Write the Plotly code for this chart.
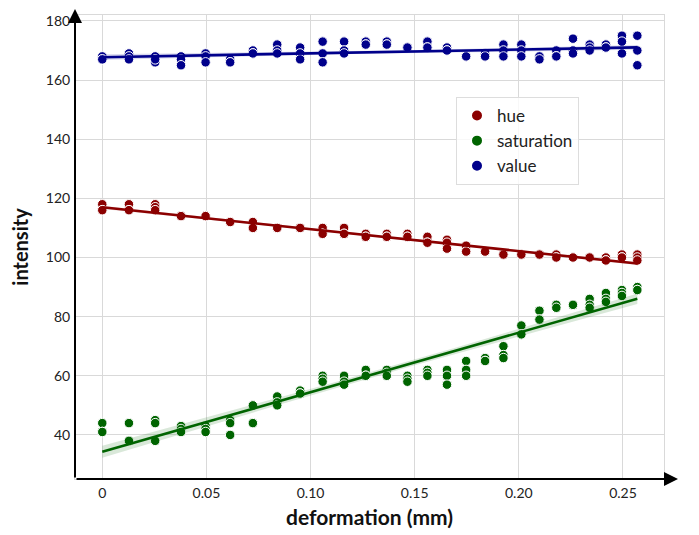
import numpy as np
import plotly.graph_objects as go

# deformation (mm) for each measurement column
deformation = [0, 0.0128, 0.0254, 0.0378, 0.0496, 0.0614, 0.0723, 0.0840, 0.0950,
               0.1058, 0.1161, 0.1265, 0.1366, 0.1465, 0.1561, 0.1655, 0.1747, 0.1838,
               0.1926, 0.2012, 0.2099, 0.2180, 0.2260, 0.2340, 0.2418, 0.2495, 0.2569]

# three replicate readings per column
hue = [[118, 116, 116], [118, 116, 116], [118, 117, 116], [114, 114, 114], [114, 114, 114],
       [112, 112, 112], [112, 110, 110], [110, 110, 110], [110, 110, 110], [110, 108, 108],
       [110, 108, 108], [108, 107, 107], [108, 107, 107], [108, 107, 107], [107, 105, 105],
       [106, 105, 103], [104, 102, 102], [102, 102, 102], [101, 101, 101], [101, 101, 101],
       [101, 101, 101], [101, 100, 100], [100, 100, 100], [100, 100, 100], [100, 99, 99],
       [101, 100, 100], [101, 100, 99]]
saturation = [[44, 41, 41], [44, 38, 38], [45, 44, 38], [43, 42, 41], [43, 42, 41],
              [45, 44, 40], [50, 44, 44], [53, 51, 50], [55, 54, 54], [60, 59, 58],
              [60, 58, 57], [62, 60, 60], [62, 61, 60], [60, 59, 58], [62, 61, 60],
              [62, 60, 57], [65, 62, 60], [66, 65, 65], [70, 67, 66], [77, 74, 74],
              [82, 79, 79], [84, 84, 83], [84, 84, 84], [86, 84, 83], [88, 86, 85],
              [89, 88, 87], [90, 89, 89]]
value = [[168, 167, 167], [169, 168, 167], [168, 166, 167], [168, 167, 165], [169, 168, 166],
         [167, 166, 166], [170, 169, 169], [172, 170, 169], [171, 169, 167], [173, 169, 166],
         [173, 170, 169], [173, 172, 172], [173, 172, 172], [171, 171, 171], [173, 171, 171],
         [171, 170, 170], [168, 168, 168], [169, 168, 168], [172, 170, 168], [172, 170, 168],
         [168, 168, 167], [170, 168, 168], [174, 170, 169], [172, 171, 170], [172, 171, 171],
         [175, 173, 169], [175, 170, 165]]

series_names = ["hue", "saturation", "value"]
series_colors = ["#8b0000", "#006400", "#00008b"]
series_fill = ["rgba(139,0,0,0.15)", "rgba(0,100,0,0.15)", "rgba(0,0,139,0.15)"]

x_tickvals = [0, 0.05, 0.10, 0.15, 0.20, 0.25]
x_ticktext = ["0", "0.05", "0.10", "0.15", "0.20", "0.25"]
y_tickvals = [40, 60, 80, 100, 120, 140, 160, 180]

FONT = "Source Sans Pro, Lato, sans-serif"

fig = go.Figure()

for name, data, col, fcol in zip(series_names, [hue, saturation, value], series_colors, series_fill):
    xs = np.repeat(deformation, 3)
    ys = np.array(data, dtype=float).ravel()
    fig.add_trace(go.Scatter(
        x=xs, y=ys, mode="markers", name=name,
        marker=dict(color=col, size=9.5, line=dict(color="white", width=1)),
    ))
    # linear regression with 95% CI
    n = len(xs)
    slope, intercept = np.polyfit(xs, ys, 1)
    resid = ys - (slope * xs + intercept)
    s = np.sqrt(np.sum(resid ** 2) / (n - 2))
    xbar = xs.mean()
    sxx = np.sum((xs - xbar) ** 2)
    xg = np.linspace(min(deformation), max(deformation), 100)
    yg = slope * xg + intercept
    se = s * np.sqrt(1.0 / n + (xg - xbar) ** 2 / sxx)
    t = 1.99
    fig.add_trace(go.Scatter(
        x=np.concatenate([xg, xg[::-1]]),
        y=np.concatenate([yg + t * se, (yg - t * se)[::-1]]),
        fill="toself", fillcolor=fcol, line=dict(width=0),
        mode="lines", hoverinfo="skip", showlegend=False,
    ))
    fig.add_trace(go.Scatter(
        x=xg, y=yg, mode="lines", line=dict(color=col, width=2.6),
        showlegend=False, hoverinfo="skip",
    ))

# page body adds an 8px offset, so the figure is laid out 8px up/left
OFF = 8
FW, FH = 699 - OFF, 535 - OFF
L, T, W, H = 75 - OFF, 15 - OFF, 589, 464
fig.update_layout(
    width=FW, height=FH,
    margin=dict(l=L, r=FW - L - W, t=T, b=FH - T - H, autoexpand=False),
    paper_bgcolor="white", plot_bgcolor="white",
    font=dict(family=FONT, color="#222222", size=14),
    showlegend=True,
    legend=dict(
        x=(456 - 75) / W, y=(479 - 97) / H, xanchor="left", yanchor="top",
        font=dict(family=FONT, size=17, color="#222222"),
        bordercolor="#dddddd", borderwidth=1, bgcolor="rgba(255,255,255,0.8)",
        itemsizing="constant", tracegroupgap=0, itemwidth=30,
    ),
    xaxis=dict(
        range=[-0.0131, 0.2697], tickvals=x_tickvals, ticktext=x_ticktext,
        showgrid=True, gridcolor="#d9d9d9", gridwidth=1, zeroline=False,
        showline=True, linecolor="#d9d9d9", linewidth=1, mirror=True,
        ticks="", ticklabelstandoff=1, automargin=False,
        tickfont=dict(family=FONT, size=14, color="#222222"),
        title=dict(text="<b>deformation (mm)</b>", font=dict(family=FONT, size=21, color="#111111"), standoff=10),
    ),
    yaxis=dict(
        range=[25.1, 182.0], tickvals=y_tickvals,
        showgrid=True, gridcolor="#d9d9d9", gridwidth=1, zeroline=False,
        showline=True, linecolor="#d9d9d9", linewidth=1, mirror=True,
        ticks="", ticklabelstandoff=1, automargin=False,
        tickfont=dict(family=FONT, size=14, color="#222222"),
        title=dict(text="<b>intensity</b>", font=dict(family=FONT, size=20, color="#111111"), standoff=12),
    ),
)

# black axis arrows (left and bottom)
fig.add_annotation(x=(678 - 75) / W, y=0, xref="paper", yref="paper", text="",
                   showarrow=True, ax=-(678 - 75), ay=0, axref="pixel", ayref="pixel",
                   arrowhead=2, arrowsize=1.4, arrowwidth=2, arrowcolor="black", standoff=0)
fig.add_annotation(x=0, y=(479 - 5) / H, xref="paper", yref="paper", text="",
                   showarrow=True, ax=0, ay=(479 - 5), axref="pixel", ayref="pixel",
                   arrowhead=2, arrowsize=1.4, arrowwidth=2, arrowcolor="black", standoff=0)

fig.write_html("out.html")
